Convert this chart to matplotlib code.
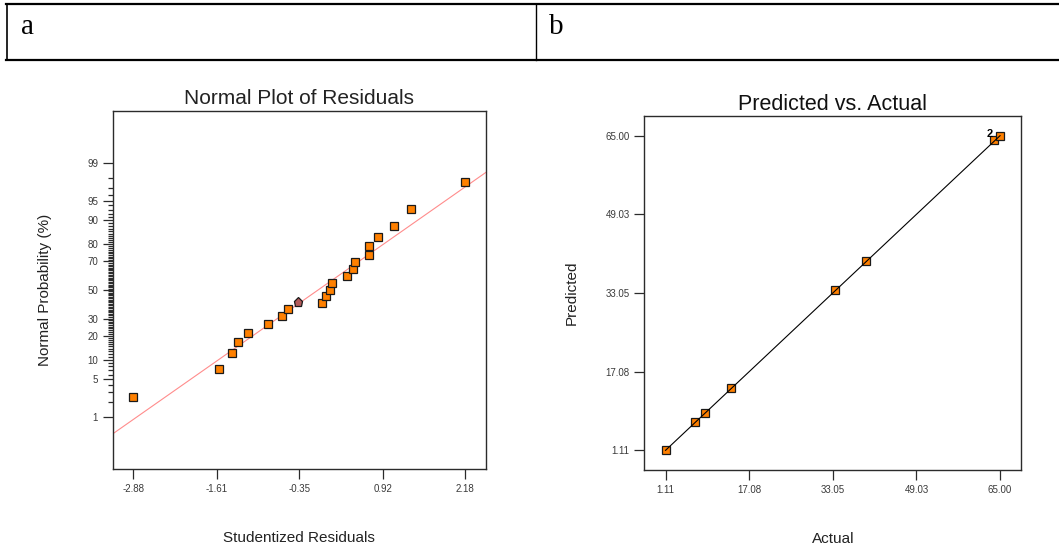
import math
import numpy as np
import matplotlib
matplotlib.use("Agg")
import matplotlib.pyplot as plt
from matplotlib.lines import Line2D

plt.rcParams['font.family'] = ['Liberation Sans', 'DejaVu Sans']

# ---------------- data ----------------
# Normal plot of residuals (studentized residual, normal probability %)
resid_x = [-2.88, -1.57, -1.37, -1.29, -1.13, -0.83, -0.61, -0.53, -0.01, 0.05,
           0.11, 0.15, 0.37, 0.47, 0.50, 0.71, 0.71, 0.85, 1.09, 1.35, 2.18]
resid_p = [2.44, 7.27, 12.36, 16.98, 21.5, 26.6, 31.4, 36.1, 40.8, 45.4,
           50.2, 55.3, 60.1, 64.8, 69.4, 74.2, 79.0, 83.5, 88.0, 93.1, 97.6]
highlight_x = [-0.365]
highlight_p = [41.1]
line_mu = -0.065      # normal reference line: centre
line_sigma = 1.183    # normal reference line: spread
resid_xticks = [-2.88, -1.61, -0.35, 0.92, 2.18]
resid_xticklabels = ['-2.88', '-1.61', '-0.35', '0.92', '2.18']
prob_major = [1, 5, 10, 20, 30, 50, 70, 80, 90, 95, 99]

# Predicted vs. actual
actual = [1.11, 6.65, 8.63, 13.60, 33.56, 39.37, 63.85, 65.00]
predicted = [1.17, 6.80, 8.77, 13.71, 33.68, 39.52, 64.07, 65.00]
pa_ticks = [1.11, 17.08, 33.05, 49.03, 65.00]
pa_ticklabels = ['1.11', '17.08', '33.05', '49.03', '65.00']
overlap_label = '2'

# ---------------- helpers ----------------
_erf = np.vectorize(math.erf, otypes=[float])


def cdf_pct(z):
    z = np.asarray(z, dtype=float)
    return 50.0 * (1.0 + _erf(z / math.sqrt(2.0)))


def ppf_pct(p):
    p = np.clip(np.asarray(p, dtype=float), 1e-7, 100 - 1e-7)
    lo = np.full(p.shape, -10.0)
    hi = np.full(p.shape, 10.0)
    for _ in range(55):
        mid = (lo + hi) / 2.0
        m = cdf_pct(mid) < p
        lo = np.where(m, mid, lo)
        hi = np.where(m, hi, mid)
    return (lo + hi) / 2.0


ORANGE = '#ff8000'
EDGE = '#1a1a1a'
SPINE = '#2b2b2b'
TICKC = '#3a3a3a'

fig = plt.figure(figsize=(10.59, 5.52), dpi=100)

# ---------------- header table ----------------
W, H = 1059.0, 552.0
def fx(px):
    return px / W
def fy(py):
    return 1 - py / H

fig.add_artist(Line2D([fx(6), 1], [fy(4), fy(4)], color='black', lw=1.6))
fig.add_artist(Line2D([fx(6), 1], [fy(60), fy(60)], color='black', lw=1.6))
fig.add_artist(Line2D([fx(7), fx(7)], [fy(4), fy(60)], color='black', lw=1.2))
fig.add_artist(Line2D([fx(536), fx(536)], [fy(4), fy(60)], color='black', lw=1.0))
fig.text(fx(21), fy(34), 'a', family='Liberation Serif', fontsize=21,
         ha='left', va='baseline')
fig.text(fx(549), fy(34), 'b', family='Liberation Serif', fontsize=21,
         ha='left', va='baseline')

# ---------------- left: normal plot ----------------
ax1 = fig.add_axes([112.7 / W, 1 - 469 / H, (486 - 112.7) / W, (469 - 111) / H])
ax1.set_yscale('function', functions=(ppf_pct, cdf_pct))
x_lo = min(resid_x) - 0.062 * (max(resid_x) - min(resid_x))
x_hi = max(resid_x) + 0.062 * (max(resid_x) - min(resid_x))
ax1.set_xlim(x_lo, x_hi)
ax1.set_ylim(float(cdf_pct(-3.29)), float(cdf_pct(3.29)))

lx = np.array([x_lo, x_hi])
ax1.plot(lx, cdf_pct((lx - line_mu) / line_sigma), color='#ff8c8c', lw=0.8, zorder=2)
ax1.plot(resid_x, resid_p, 's', ms=5.2, mfc=ORANGE, mec=EDGE, mew=0.9, zorder=3)
ax1.plot(highlight_x, highlight_p, 'p', ms=6.5, mfc='#b25a5a', mec=EDGE, mew=0.9, zorder=3)

ax1.set_xticks(resid_xticks)
ax1.set_xticklabels(resid_xticklabels)
ax1.set_yticks(prob_major)
ax1.set_yticklabels([str(v) for v in prob_major])
ax1.set_yticks([v for v in range(1, 100) if v not in prob_major], minor=True)
ax1.xaxis.set_minor_locator(matplotlib.ticker.NullLocator())
ax1.tick_params(axis='both', which='major', direction='out', length=7, width=0.9,
                color=SPINE, labelsize=7, labelcolor=TICKC)
ax1.tick_params(axis='x', which='major', pad=3.5)
ax1.tick_params(axis='y', which='major', pad=3.5)
ax1.tick_params(axis='y', which='minor', direction='out', length=3.6, width=0.9, color=SPINE)
ax1.tick_params(top=False, right=False, which='both')
for s in ax1.spines.values():
    s.set_color(SPINE)
    s.set_linewidth(1.0)
ax1.set_title('Normal Plot of Residuals', fontsize=15, color='#222222', pad=5)
ax1.set_xlabel('Studentized Residuals', fontsize=11, color='#222222', labelpad=27)
ax1.set_ylabel('Normal Probability (%)', fontsize=11, color='#222222', labelpad=25)

# ---------------- right: predicted vs actual ----------------
ax2 = fig.add_axes([644.3 / W, 1 - 470.3 / H, (1021.3 - 644.3) / W, (470.3 - 115.7) / H])
a_lo, a_hi = min(actual), max(actual)
pad_a = 0.0635 * (a_hi - a_lo)
ax2.set_xlim(a_lo - pad_a, a_hi + pad_a)
ax2.set_ylim(a_lo - pad_a, a_hi + pad_a)
ax2.plot(actual, predicted, 's', ms=5.2, mfc=ORANGE, mec=EDGE, mew=0.9, zorder=2)
ax2.plot([a_lo, a_hi], [a_lo, a_hi], color='black', lw=0.8, zorder=3)
ax2.annotate(overlap_label, xy=(actual[-1], predicted[-1]), xytext=(-5, 1),
             textcoords='offset points', ha='right', va='center',
             fontsize=8, fontweight='bold', color='black')
ax2.set_xticks(pa_ticks)
ax2.set_xticklabels(pa_ticklabels)
ax2.set_yticks(pa_ticks)
ax2.set_yticklabels(pa_ticklabels)
ax2.tick_params(axis='both', which='major', direction='out', length=7, width=0.9,
                color=SPINE, labelsize=7, labelcolor=TICKC, pad=3.5)
ax2.tick_params(top=False, right=False)
for s in ax2.spines.values():
    s.set_color(SPINE)
    s.set_linewidth(1.0)
ax2.set_title('Predicted vs. Actual', fontsize=15.5, color='#111111', pad=4)
ax2.set_xlabel('Actual', fontsize=11, color='#222222', labelpad=27)
ax2.set_ylabel('Predicted', fontsize=11, color='#222222', labelpad=19)

fig.savefig('out.png', dpi=100)
